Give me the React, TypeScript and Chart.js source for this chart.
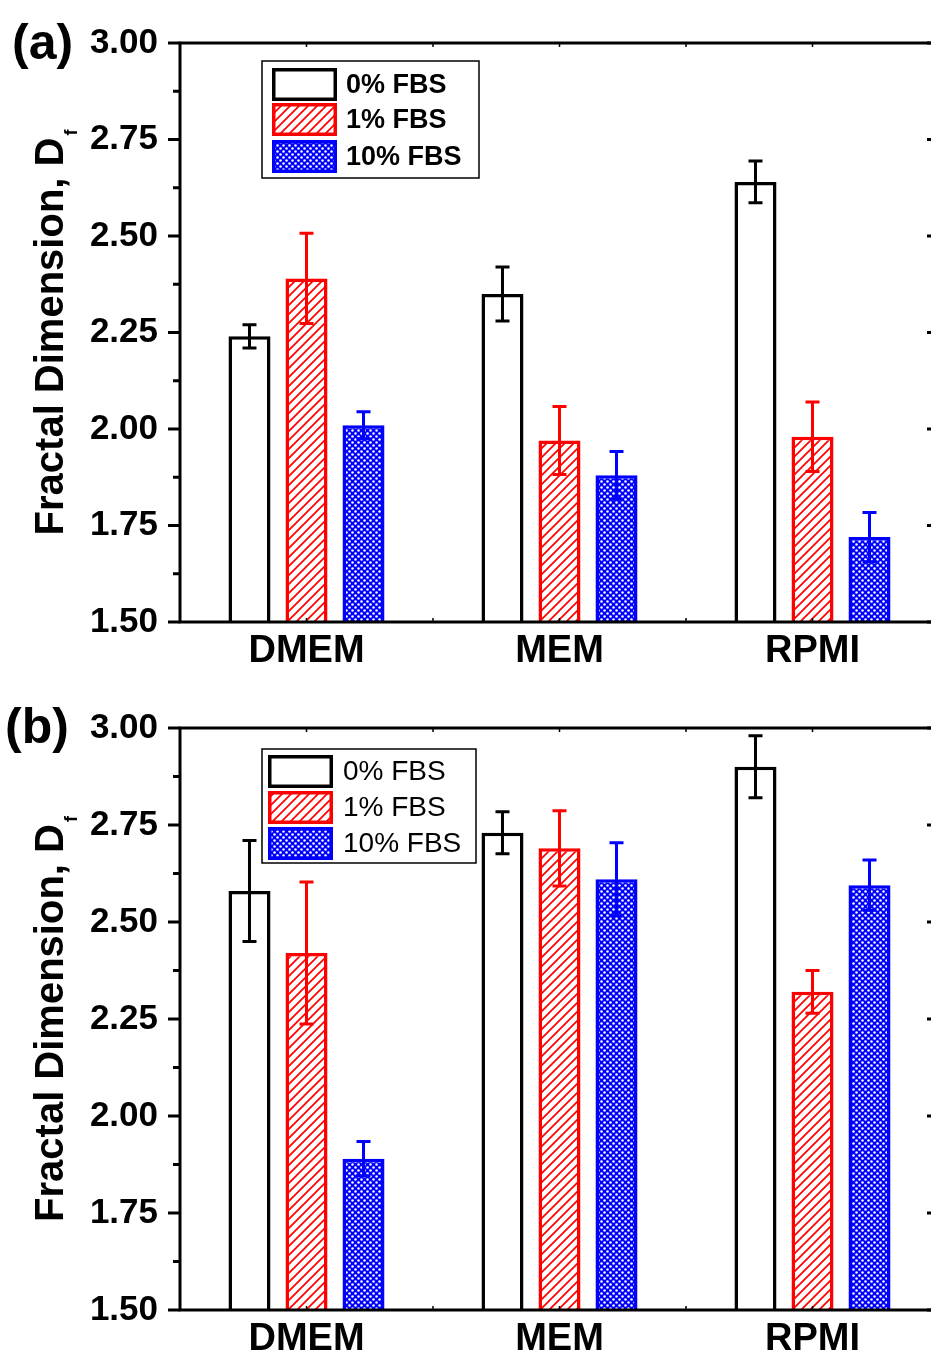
import React, { useEffect, useRef } from 'react';
import { Chart, registerables } from 'chart.js';

Chart.register(...registerables);

// ---------- data ----------
const categories = ['DMEM', 'MEM', 'RPMI'];
const seriesLabels = ['0% FBS', '1% FBS', '10% FBS'];
const yTicks = [1.5, 1.75, 2.0, 2.25, 2.5, 2.75, 3.0];

// panel (a)
const a0 = [2.24, 2.35, 2.64];
const a1 = [2.39, 1.97, 1.98];
const a10 = [2.01, 1.88, 1.72];
const a0Err = [0.03, 0.07, 0.054];
const a1Err = [0.117, 0.088, 0.09];
const a10Err = [0.035, 0.062, 0.064];

// panel (b)
const b0 = [2.58, 2.73, 2.9];
const b1 = [2.42, 2.69, 2.32];
const b10 = [1.89, 2.61, 2.595];
const b0Err = [0.13, 0.054, 0.08];
const b1Err = [0.183, 0.097, 0.055];
const b10Err = [0.044, 0.094, 0.065];

// ---------- styling ----------
const FONT = '"Liberation Sans", Arial, Helvetica, sans-serif';
const CANVAS_W = 960;
const AREA_LEFT = 180;
const AREA_RIGHT = 939;
const BORDERS = ['#000000', '#ff0000', '#0000ff'];

function makeHatch(color: string) {
  const s = 9;
  const c = document.createElement('canvas');
  c.width = s;
  c.height = s;
  const g = c.getContext('2d')!;
  g.fillStyle = '#ffffff';
  g.fillRect(0, 0, s, s);
  g.strokeStyle = color;
  g.lineWidth = 1.7;
  g.beginPath();
  g.moveTo(-1, s + 1);
  g.lineTo(s + 1, -1);
  g.moveTo(-1, 1);
  g.lineTo(1, -1);
  g.moveTo(s - 1, s + 1);
  g.lineTo(s + 1, s - 1);
  g.stroke();
  return g.createPattern(c, 'repeat')!;
}

function makeDots(color: string) {
  const s = 6;
  const c = document.createElement('canvas');
  c.width = s;
  c.height = s;
  const g = c.getContext('2d')!;
  g.fillStyle = color;
  g.fillRect(0, 0, s, s);
  g.fillStyle = '#ffffff';
  [[1.5, 1.5], [4.5, 4.5]].forEach(([x, y]) => {
    g.beginPath();
    g.arc(x, y, 1.25, 0, Math.PI * 2);
    g.fill();
  });
  return g.createPattern(c, 'repeat')!;
}

const decorPlugin = {
  id: 'decor',
  afterDatasetsDraw(chart: any, _args: any, opts: any) {
    const ctx = chart.ctx;
    const ys = chart.scales.y;
    chart.data.datasets.forEach((ds: any, i: number) => {
      const meta = chart.getDatasetMeta(i);
      const errs = opts.errors[i];
      meta.data.forEach((bar: any, j: number) => {
        const v = ds.data[j];
        const e = errs[j];
        const x = bar.x;
        const yt = ys.getPixelForValue(v + e);
        const yb = ys.getPixelForValue(v - e);
        ctx.save();
        ctx.strokeStyle = ds.borderColor;
        ctx.lineWidth = 3;
        ctx.beginPath();
        ctx.moveTo(x, yt);
        ctx.lineTo(x, yb);
        ctx.moveTo(x - 7, yt);
        ctx.lineTo(x + 7, yt);
        ctx.moveTo(x - 7, yb);
        ctx.lineTo(x + 7, yb);
        ctx.stroke();
        ctx.restore();
      });
    });
  },
  afterDraw(chart: any, _args: any, opts: any) {
    const ctx = chart.ctx;
    const { left, right, top, bottom } = chart.chartArea;
    const ys = chart.scales.y;
    const xs = chart.scales.x;
    ctx.save();
    // frame
    ctx.strokeStyle = '#000';
    ctx.lineWidth = 3;
    ctx.lineCap = 'square';
    ctx.beginPath();
    ctx.moveTo(left, bottom);
    ctx.lineTo(left, top);
    ctx.lineTo(right, top);
    ctx.lineTo(right, bottom);
    ctx.closePath();
    ctx.stroke();
    ctx.lineCap = 'butt';
    // y ticks (major + minor)
    for (let k = 0; k < yTicks.length; k++) {
      const py = ys.getPixelForValue(yTicks[k]);
      ctx.beginPath();
      ctx.moveTo(left - 12, py);
      ctx.lineTo(left, py);
      ctx.moveTo(right, py);
      ctx.lineTo(right - 12, py);
      ctx.stroke();
      if (k < yTicks.length - 1) {
        const pm = ys.getPixelForValue((yTicks[k] + yTicks[k + 1]) / 2);
        ctx.beginPath();
        ctx.moveTo(left - 7, pm);
        ctx.lineTo(left, pm);
        ctx.moveTo(right, pm);
        ctx.lineTo(right - 8, pm);
        ctx.stroke();
      }
    }
    // x ticks (small, inward) at centres and boundaries
    ctx.lineWidth = 1.5;
    const n = categories.length;
    for (let k = 0; k < n; k++) {
      const cx = xs.getPixelForValue(k);
      const half = (right - left) / n / 2;
      [cx, cx + half].forEach((px) => {
        ctx.beginPath();
        ctx.moveTo(px, top);
        ctx.lineTo(px, top + 4);
        ctx.moveTo(px, bottom);
        ctx.lineTo(px, bottom - 4);
        ctx.stroke();
      });
    }

    // legend
    const L = opts.legend;
    ctx.fillStyle = '#fff';
    ctx.fillRect(L.x, L.y, L.w, L.h);
    ctx.lineWidth = 1.5;
    ctx.strokeStyle = '#000';
    ctx.strokeRect(L.x, L.y, L.w, L.h);
    chart.data.datasets.forEach((ds: any, i: number) => {
      const ry = L.rows[i];
      ctx.fillStyle = ds.backgroundColor;
      ctx.fillRect(L.sx, ry, L.sw, L.sh);
      ctx.lineWidth = 3.5;
      ctx.strokeStyle = ds.borderColor;
      ctx.strokeRect(L.sx + 1.75, ry + 1.75, L.sw - 3.5, L.sh - 3.5);
      ctx.fillStyle = '#000';
      ctx.font = `${L.bold ? 'bold ' : ''}${L.fontSize}px ${FONT}`;
      ctx.textAlign = 'left';
      ctx.textBaseline = 'middle';
      ctx.fillText(ds.label, L.tx, ry + L.sh / 2 + 1);
    });

    // panel label
    ctx.fillStyle = '#000';
    ctx.font = `bold 50px ${FONT}`;
    ctx.textAlign = 'left';
    ctx.textBaseline = 'alphabetic';
    ctx.fillText(opts.panel.text, opts.panel.x, opts.panel.y);

    // y title with subscript
    const mainText = 'Fractal Dimension, D';
    const subText = 'f';
    ctx.font = `bold 40px ${FONT}`;
    const wMain = ctx.measureText(mainText).width;
    ctx.font = `bold 18px ${FONT}`;
    const wSub = ctx.measureText(subText).width;
    const total = wMain + wSub + 2;
    ctx.translate(opts.titleX, (top + bottom) / 2);
    ctx.rotate(-Math.PI / 2);
    ctx.font = `bold 40px ${FONT}`;
    ctx.fillText(mainText, -total / 2, 0);
    ctx.font = `bold 18px ${FONT}`;
    ctx.fillText(subText, -total / 2 + wMain + 2, 14);
    ctx.restore();
  },
};

type Spec = {
  top: number;
  height: number;
  areaTop: number;
  areaBottom: number;
  values: number[][];
  errors: number[][];
  legend: any;
  panel: { text: string; x: number; y: number };
};

function Panel({ spec }: { spec: Spec }) {
  const ref = useRef<HTMLCanvasElement>(null);
  useEffect(() => {
    const canvas = ref.current!;
    const fills: any[] = ['#ffffff', makeHatch('#ff0000'), makeDots('#0000ff')];
    const chart = new Chart(canvas, {
      type: 'bar',
      data: {
        labels: categories,
        datasets: spec.values.map((vals, i) => ({
          label: seriesLabels[i],
          data: vals,
          backgroundColor: fills[i],
          borderColor: BORDERS[i],
          borderWidth: 3.5,
          barPercentage: 0.737,
          categoryPercentage: 0.676,
        })),
      },
      options: {
        responsive: false,
        animation: false,
        devicePixelRatio: 1,
        layout: {
          padding: { left: 0, right: CANVAS_W - AREA_RIGHT, top: spec.areaTop, bottom: 0 },
        },
        plugins: {
          legend: { display: false },
          tooltip: { enabled: false },
          decor: {
            errors: spec.errors,
            legend: spec.legend,
            panel: spec.panel,
            titleX: 63,
          },
        } as any,
        scales: {
          x: {
            type: 'category',
            grid: { display: false, drawTicks: false },
            border: { display: false },
            ticks: {
              color: '#000',
              font: { family: FONT, size: 38, weight: 'bold' },
              padding: 7,
              maxRotation: 0,
              autoSkip: false,
            },
            afterFit: (s: any) => {
              s.height = spec.height - spec.areaBottom;
            },
          },
          y: {
            type: 'linear',
            min: 1.5,
            max: 3.0,
            grid: { display: false, drawTicks: false },
            border: { display: false },
            afterBuildTicks: (s: any) => {
              s.ticks = yTicks.map((v) => ({ value: v }));
            },
            ticks: {
              color: '#000',
              font: { family: FONT, size: 35, weight: 'bold' },
              padding: 22,
              callback: (v: any) => Number(v).toFixed(2),
            },
            afterFit: (s: any) => {
              s.width = AREA_LEFT;
            },
          },
        } as any,
      },
      plugins: [decorPlugin],
    });
    return () => chart.destroy();
  }, []);
  return (
    <canvas
      ref={ref}
      width={CANVAS_W}
      height={spec.height}
      style={{ position: 'absolute', left: 0, top: spec.top, width: CANVAS_W, height: spec.height }}
    />
  );
}

const specA: Spec = {
  top: 0,
  height: 680,
  areaTop: 39,
  areaBottom: 622,
  values: [a0, a1, a10],
  errors: [a0Err, a1Err, a10Err],
  legend: {
    x: 262, y: 61, w: 217, h: 117,
    sx: 272, sw: 65, sh: 33,
    rows: [68, 103, 140],
    tx: 346, fontSize: 27, bold: true,
  },
  panel: { text: '(a)', x: 12, y: 59 },
};

const specB: Spec = {
  top: 680,
  height: 675,
  areaTop: 48,
  areaBottom: 630,
  values: [b0, b1, b10],
  errors: [b0Err, b1Err, b10Err],
  legend: {
    x: 262, y: 69, w: 214, h: 114,
    sx: 268, sw: 65, sh: 33,
    rows: [75, 111, 147],
    tx: 343, fontSize: 28, bold: false,
  },
  panel: { text: '(b)', x: 5, y: 63 },
};

export default function App() {
  return (
    <div
      style={{
        position: 'absolute',
        left: 0,
        top: 0,
        width: 931,
        height: 1355,
        overflow: 'hidden',
        background: '#ffffff',
      }}
    >
      <Panel spec={specA} />
      <Panel spec={specB} />
    </div>
  );
}
